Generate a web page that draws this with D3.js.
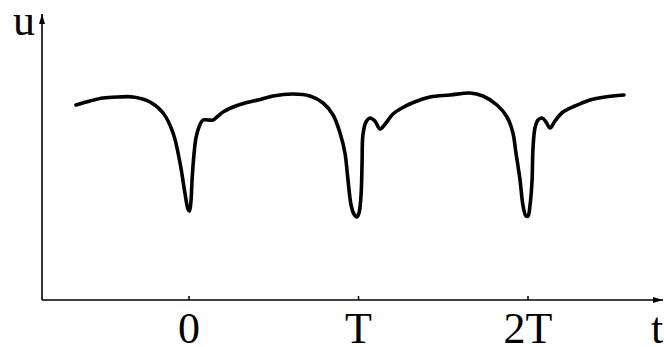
<!DOCTYPE html>
<html>
<head>
<meta charset="utf-8">
<script src="https://cdn.jsdelivr.net/npm/d3@7"></script>
<style>
  html, body { margin: 0; padding: 0; background: #fff; }
  svg { display: block; }
</style>
</head>
<body>
<div id="chart"></div>
<script>
var width = 664;
var height = 347;

// time in units of T, signal u in arbitrary units
var tVals = [-0.664, -0.581, -0.504, -0.416, -0.327, -0.227, -0.150, -0.091, -0.050, -0.021, -0.003, 0.006,
  0.015, 0.021, 0.032, 0.044, 0.062, 0.086, 0.115, 0.145, 0.174, 0.204, 0.263, 0.333, 0.410, 0.499,
  0.617, 0.717, 0.794, 0.853, 0.894, 0.923, 0.941, 0.959, 0.976, 0.994, 1.006, 1.018, 1.024, 1.029,
  1.047, 1.071, 1.100, 1.130, 1.165, 1.206, 1.260, 1.319, 1.425, 1.543, 1.661, 1.737, 1.820, 1.879,
  1.914, 1.932, 1.956, 1.973, 1.991, 2.003, 2.015, 2.027, 2.032, 2.044, 2.062, 2.086, 2.109, 2.133,
  2.162, 2.209, 2.280, 2.369, 2.457, 2.569];
var uVals = [0.975, 0.995, 1.01, 1.015, 1.015, 0.99, 0.935, 0.835, 0.685, 0.535, 0.455, 0.445,
  0.50, 0.60, 0.725, 0.81, 0.865, 0.90, 0.90, 0.90, 0.92, 0.94, 0.965, 0.985, 1.0, 1.02,
  1.03, 1.02, 0.985, 0.925, 0.835, 0.735, 0.60, 0.475, 0.43, 0.415, 0.435, 0.525, 0.685, 0.825,
  0.89, 0.91, 0.895, 0.855, 0.885, 0.93, 0.96, 0.985, 1.015, 1.025, 1.035, 1.02, 0.975, 0.915,
  0.835, 0.735, 0.60, 0.475, 0.42, 0.42, 0.475, 0.60, 0.75, 0.86, 0.90, 0.91, 0.89, 0.86,
  0.895, 0.94, 0.97, 1.0, 1.015, 1.025];

var tickVals = [0, 1, 2];
var tickLabels = ["0", "T", "2T"];

var originX = 42, originY = 300;

var x = d3.scaleLinear().domain([0, 2]).range([188.5, 527.5]);
var y = d3.scaleLinear().domain([0, 1]).range([originY, 100]);

var svg = d3.select("#chart")
  .append("svg")
  .attr("width", width)
  .attr("height", height);

var defs = svg.append("defs");
defs.append("marker")
  .attr("id", "arrow")
  .attr("viewBox", "0 0 10 6")
  .attr("refX", 10)
  .attr("refY", 3)
  .attr("markerWidth", 10)
  .attr("markerHeight", 6)
  .attr("markerUnits", "userSpaceOnUse")
  .attr("orient", "auto")
  .append("path")
    .attr("d", "M0,0 L10,3 L0,6 Z")
    .attr("fill", "#000");

// x axis with small upward ticks
var xAxis = d3.axisBottom(x)
  .tickValues(tickVals)
  .tickFormat(function(d, i) { return tickLabels[i]; })
  .tickSizeInner(-4)
  .tickSizeOuter(0)
  .tickPadding(43);

var gx = svg.append("g")
  .attr("transform", "translate(0," + originY + ")")
  .call(xAxis);
gx.select(".domain").remove();
gx.selectAll(".tick line").attr("stroke", "#000").attr("stroke-width", 1.5);
gx.selectAll(".tick text")
  .attr("font-family", "Liberation Serif, Times New Roman, serif")
  .attr("font-size", 44)
  .attr("fill", "#000")
  .attr("dy", 0);

svg.append("line")
  .attr("x1", originX).attr("y1", originY)
  .attr("x2", 663).attr("y2", originY)
  .attr("stroke", "#000")
  .attr("stroke-width", 1.6)
  .attr("marker-end", "url(#arrow)");

svg.append("line")
  .attr("x1", originX).attr("y1", originY)
  .attr("x2", originX).attr("y2", 14)
  .attr("stroke", "#000")
  .attr("stroke-width", 1.6)
  .attr("marker-end", "url(#arrow)");

svg.append("text")
  .text("u")
  .attr("x", 13)
  .attr("y", 35)
  .attr("font-family", "Liberation Serif, Times New Roman, serif")
  .attr("font-size", 44)
  .attr("fill", "#000");

svg.append("text")
  .text("t")
  .attr("x", 651)
  .attr("y", 343)
  .attr("font-family", "Liberation Serif, Times New Roman, serif")
  .attr("font-size", 44)
  .attr("fill", "#000");

var points = tVals.map(function(t, i) { return [t, uVals[i]]; });

var line = d3.line()
  .x(function(d) { return x(d[0]); })
  .y(function(d) { return y(d[1]); })
  .curve(d3.curveCatmullRom.alpha(0.5));

svg.append("path")
  .datum(points)
  .attr("d", line)
  .attr("fill", "none")
  .attr("stroke", "#000")
  .attr("stroke-width", 3.6)
  .attr("stroke-linecap", "round")
  .attr("stroke-linejoin", "round");
</script>
</body>
</html>
